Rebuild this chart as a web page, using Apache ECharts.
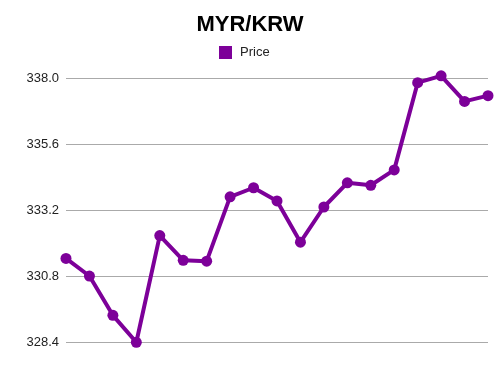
<!DOCTYPE html>
<html>
<head>
<meta charset="utf-8">
<script src="https://cdn.jsdelivr.net/npm/echarts@6/dist/echarts.min.js"></script>
<style>html,body{margin:0;padding:0;background:#fff}#c{width:500px;height:375px}</style>
</head>
<body>
<div id="c"></div>
<script>
var categories = ['1','2','3','4','5','6','7','8','9','10','11','12','13','14','15','16','17','18','19'];
var priceValues = [331.45, 330.81, 329.38, 328.40, 332.28, 331.38, 331.35, 333.69, 334.02, 333.54, 332.04, 333.32, 334.20, 334.11, 334.67, 337.84, 338.09, 337.16, 337.37];
var yTicks = [328.4, 330.8, 333.2, 335.6, 338.0];

var chart = echarts.init(document.getElementById('c'));
chart.setOption({
  animation: false,
  title: {
    text: 'MYR/KRW', left: 'center', top: 9,
    textStyle: {fontFamily: 'Liberation Sans', fontSize: 22, fontWeight: 'bold', color: '#000'}
  },
  legend: {
    data: ['Price'], top: 41, left: 214, icon: 'rect', itemWidth: 13, itemHeight: 13, itemGap: 10,
    textStyle: {fontFamily: 'Liberation Sans', fontSize: 13, color: '#222', padding: [0, 0, 0, 3]}
  },
  grid: {left: 66, right: 12, top: 78.3, bottom: 375 - 342.3},
  xAxis: {
    type: 'category', data: categories, boundaryGap: false,
    axisLine: {show: false}, axisTick: {show: false}, axisLabel: {show: false}, splitLine: {show: false}
  },
  yAxis: {
    type: 'value', min: 328.4, max: 338.0,
    axisLine: {show: false},
    axisTick: {show: false, customValues: yTicks},
    axisLabel: {customValues: yTicks, formatter: function (v) { return v.toFixed(1); },
      fontFamily: 'Liberation Sans', fontSize: 13, color: '#222', margin: 7},
    splitLine: {show: true, lineStyle: {color: '#aaaaaa', width: 1}}
  },
  series: [{
    name: 'Price', type: 'line', data: priceValues, clip: false,
    itemStyle: {color: '#7d0099'},
    lineStyle: {color: '#7d0099', width: 4},
    symbol: 'circle', symbolSize: 11, showSymbol: true
  }]
});
</script>
</body>
</html>
